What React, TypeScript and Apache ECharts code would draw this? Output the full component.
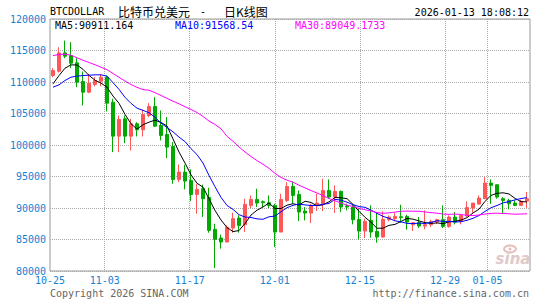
import { useEffect, useRef } from "react";
import * as echarts from "echarts";

const dates = [
  "10-25", "10-26", "10-27", "10-28", "10-29", "10-30", "10-31",
  "11-01", "11-02", "11-03", "11-04", "11-05", "11-06", "11-07", "11-08", "11-09", "11-10",
  "11-11", "11-12", "11-13", "11-14", "11-15", "11-16", "11-17", "11-18", "11-19", "11-20",
  "11-21", "11-22", "11-23", "11-24", "11-25", "11-26", "11-27", "11-28", "11-29", "11-30",
  "12-01", "12-02", "12-03", "12-04", "12-05", "12-06", "12-07", "12-08", "12-09", "12-10",
  "12-11", "12-12", "12-13", "12-14", "12-15", "12-16", "12-17", "12-18", "12-19", "12-20",
  "12-21", "12-22", "12-23", "12-24", "12-25", "12-26", "12-27", "12-28", "12-29", "12-30", "12-31",
  "01-01", "01-02", "01-03", "01-04", "01-05", "01-06", "01-07", "01-08", "01-09", "01-10", "01-11", "01-12",
];

const openPrices = [
  111028, 111716, 114623, 114200, 113038, 110077, 108386, 109602, 110130, 110764,
  106800, 101408, 104157, 101408, 103364, 102413, 104686, 106113, 103100, 101672,
  99770, 94537, 95699, 94378, 92158, 93056, 91682, 86608, 85233, 84599,
  86819, 88405, 87348, 90413, 91365, 91000, 90836, 90413, 86185, 91206,
  93427, 92158, 89515, 89198, 90413, 90677, 92792, 91735, 92633, 90307,
  90149, 88193, 86343, 88035, 86290, 85392, 88140, 88299, 88600, 88669,
  87348, 87718, 87136, 87348, 87770, 88140, 87083, 88564, 87876, 88722,
  89991, 90625, 91471, 93955, 93691, 91471, 91206, 90783, 90413, 91100,
];

const closePrices = [
  111822, 114623, 114095, 112985, 109971, 108386, 109812, 110236, 110764, 106641,
  101408, 104051, 101408, 103364, 102413, 104844, 106113, 102994, 101514, 99664,
  94537, 95699, 94272, 92158, 92951, 91471, 86449, 85022, 84599, 86925,
  88299, 87242, 90572, 91365, 90783, 90836, 90413, 86185, 91365, 93427,
  91999, 89356, 89198, 90413, 90783, 92792, 91735, 92633, 90149, 90149,
  88140, 86343, 87876, 86185, 85392, 88193, 88564, 88669, 88500, 87770,
  87665, 87136, 87348, 87876, 88140, 87083, 88564, 87770, 88828, 90096,
  90783, 91577, 93955, 93586, 91735, 91206, 90677, 90413, 91048, 91471,
];

const lowPrices = [
  110764, 111500, 113778, 112192, 109178, 106271, 108227, 109284, 109337, 105320,
  98870, 98870, 100298, 99135, 101355, 101355, 104421, 102835, 100721, 97920,
  93849, 94114, 92951, 91101, 89092, 88564, 86079, 80476, 83542, 84599,
  86079, 86079, 86185, 89991, 90149, 90149, 89991, 83806, 86185, 90942,
  90677, 87929, 88035, 87612, 89515, 89515, 91471, 89198, 89356, 89620,
  87400, 85022, 85233, 85286, 84493, 85286, 87876, 87929, 87665, 86555,
  86343, 86819, 86608, 86978, 87506, 86819, 86872, 87400, 87400, 88564,
  89251, 90519, 91471, 90677, 91471, 89198, 89779, 90307, 90307, 89991,
];

const highPrices = [
  112192, 115522, 116579, 116315, 113778, 111663, 111293, 110764, 111293, 111028,
  107329, 104686, 104686, 104157, 103628, 105637, 106641, 107593, 105479, 104421,
  100457, 96915, 96862, 96122, 93849, 93691, 93215, 87506, 85762, 87242,
  89251, 88828, 91471, 91999, 93056, 91206, 91999, 90677, 92264, 94114,
  94220, 92792, 90149, 90677, 92264, 94642, 94537, 93586, 92792, 90677,
  90677, 89885, 88299, 90413, 89356, 89462, 88828, 89251, 90519, 88934,
  87770, 88564, 89620, 88140, 88299, 90413, 88828, 89356, 88828, 91048,
  90783, 91999, 94907, 94537, 93691, 91735, 91471, 91206, 91312, 92528,
];

// Moving-average values for the days whose window starts before the first candle
const ma5Head = [109707, 111028, 112192, 112721];
const ma10Head = [109178, 109548, 110236, 110764, 110923, 111028, 111081, 111134, 111134];
const ma30Head = [
  114200, 114350, 114420, 114250, 113850, 113450, 113100, 112750, 112350, 111950,
  111350, 110750, 110150, 109600, 109150, 108800, 108690, 108314, 107857, 107401,
  106950, 106545, 106070, 105637, 105157, 104546, 103796, 103263, 102571,
];

const xLabelDates = ["10-25", "11-03", "11-17", "12-01", "12-15", "12-29", "01-05"];
const legendTexts = ["MA5:90911.164", "MA10:91568.54", "MA30:89049.1733"];
const titleCode = "BTCDOLLAR";
const titleName = "比特币兑美元";
const titleKind = "日K线图";
const timeStamp = "2026-01-13 18:08:12";
const copyrightText = "Copyright 2026 SINA.COM";
const siteText = "http://finance.sina.com.cn";

function movingAverage(head: number[], period: number): number[] {
  return closePrices.map((_, i) => {
    if (i < head.length) return head[i];
    let s = 0;
    for (let k = i - period + 1; k <= i; k++) s += closePrices[k];
    return +(s / period).toFixed(2);
  });
}

const MONO = '"DejaVu Sans Mono", monospace';
const BLUE = "#1581d2";
const UP = "#ff5656";
const DOWN = "#00a800";
const GRID_DOT = "#aaaaaa";

export default function App() {
  const ref = useRef<HTMLDivElement>(null);

  useEffect(() => {
    if (!ref.current) return;
    const chart = echarts.init(ref.current, undefined, { renderer: "svg" });

    const labelIdx = xLabelDates.map((d) => dates.indexOf(d));
    const splitColors = dates.map((_, i) =>
      i > 0 && labelIdx.includes(i) ? GRID_DOT : "rgba(0,0,0,0)"
    );
    const candles = dates.map((_, i) => [
      openPrices[i],
      closePrices[i],
      lowPrices[i],
      highPrices[i],
    ]);

    const option: any = {
      animation: false,
      backgroundColor: "#ffffff",
      grid: {
        left: 50,
        top: 19,
        width: 480,
        height: 252,
        show: true,
        borderColor: "#999999",
        borderWidth: 1,
        backgroundColor: "transparent",
        outerBoundsMode: "none",
      },
      xAxis: [
        {
          type: "category",
          data: dates,
          boundaryGap: true,
          show: false,
        },
        {
          type: "value",
          min: 0,
          max: dates.length - 1,
          interval: 1,
          position: "bottom",
          axisLine: { show: false },
          axisTick: { show: false },
          axisLabel: {
            formatter: (v: number) => (labelIdx.includes(v) ? dates[v] : ""),
            color: BLUE,
            fontFamily: MONO,
            fontSize: 10,
            lineHeight: 10,
            margin: 4,
            showMinLabel: true,
            showMaxLabel: true,
          },
          splitLine: {
            show: true,
            lineStyle: { color: splitColors, type: [1, 1], width: 1 },
          },
        },
      ],
      yAxis: {
        type: "value",
        min: 80000,
        max: 120000,
        interval: 5000,
        axisLine: { show: false },
        axisTick: { show: false },
        axisLabel: {
          formatter: (v: number) => String(v),
          color: BLUE,
          fontFamily: MONO,
          fontSize: 10,
          lineHeight: 10,
          margin: 4,
          padding: [0, 0, 3, 0],
        },
        splitLine: {
          show: true,
          lineStyle: { color: GRID_DOT, type: [1, 1], width: 1 },
        },
      },
      series: [
        {
          type: "candlestick",
          xAxisIndex: 0,
          data: candles,
          barWidth: 4,
          itemStyle: {
            color: UP,
            color0: DOWN,
            borderColor: UP,
            borderColor0: DOWN,
            borderWidth: 1,
          },
        },
        {
          type: "line",
          xAxisIndex: 0,
          data: movingAverage(ma5Head, 5),
          symbol: "none",
          lineStyle: { color: "#000000", width: 1 },
          z: 3,
        },
        {
          type: "line",
          xAxisIndex: 0,
          data: movingAverage(ma10Head, 10),
          symbol: "none",
          lineStyle: { color: "#0000ff", width: 1 },
          z: 3,
        },
        {
          type: "line",
          xAxisIndex: 0,
          data: movingAverage(ma30Head, 30),
          symbol: "none",
          lineStyle: { color: "#ff00ff", width: 1 },
          z: 3,
        },
      ],
      graphic: [
        {
          type: "text",
          x: 50,
          y: 11,
          style: { text: titleCode, fill: "#000", font: `10px ${MONO}`, align: "left", verticalAlign: "middle" },
        },
        {
          type: "text",
          x: 118,
          y: 11,
          style: { text: titleName, fill: "#000", font: '12px "Noto Sans CJK SC"', align: "left", verticalAlign: "middle" },
        },
        {
          type: "text",
          x: 203,
          y: 11,
          style: { text: "-", fill: "#000", font: `10px ${MONO}`, align: "center", verticalAlign: "middle" },
        },
        {
          type: "text",
          x: 224,
          y: 11,
          style: { text: titleKind, fill: "#000", font: '12px "Noto Sans CJK SC"', align: "left", verticalAlign: "middle" },
        },
        {
          type: "text",
          x: 529,
          y: 12,
          style: { text: timeStamp, fill: "#000", font: `10px ${MONO}`, align: "right", verticalAlign: "middle" },
        },
        {
          type: "text",
          x: 55,
          y: 25,
          style: { text: legendTexts[0], fill: "#000000", font: `10px ${MONO}`, align: "left", verticalAlign: "middle" },
        },
        {
          type: "text",
          x: 175,
          y: 25,
          style: { text: legendTexts[1], fill: "#0000ff", font: `10px ${MONO}`, align: "left", verticalAlign: "middle" },
        },
        {
          type: "text",
          x: 295,
          y: 25,
          style: { text: legendTexts[2], fill: "#ff00ff", font: `10px ${MONO}`, align: "left", verticalAlign: "middle" },
        },
        {
          type: "text",
          x: 50,
          y: 293,
          style: { text: copyrightText, fill: "#666666", font: `10px ${MONO}`, align: "left", verticalAlign: "middle" },
        },
        {
          type: "text",
          x: 529,
          y: 293,
          style: { text: siteText, fill: "#666666", font: `10px ${MONO}`, align: "right", verticalAlign: "middle" },
        },
        {
          type: "ellipse",
          shape: { cx: 510, cy: 249, rx: 6, ry: 3.5 },
          style: { fill: "none", stroke: "#e6bcbc", lineWidth: 2 },
          z: 0,
        },
        {
          type: "circle",
          shape: { cx: 510, cy: 249, r: 1.5 },
          style: { fill: "#e6bcbc" },
          z: 0,
        },
        {
          type: "text",
          x: 513,
          y: 259,
          style: {
            text: "sina",
            fill: "#e0c9c9",
            font: 'italic bold 15px "DejaVu Sans"',
            align: "center",
            verticalAlign: "middle",
          },
          z: 0,
        },
      ],
    };

    chart.setOption(option);
    return () => chart.dispose();
  }, []);

  return (
    <div
      ref={ref}
      style={{ position: "fixed", left: 0, top: 0, width: 545, height: 300, background: "#fff" }}
    />
  );
}
